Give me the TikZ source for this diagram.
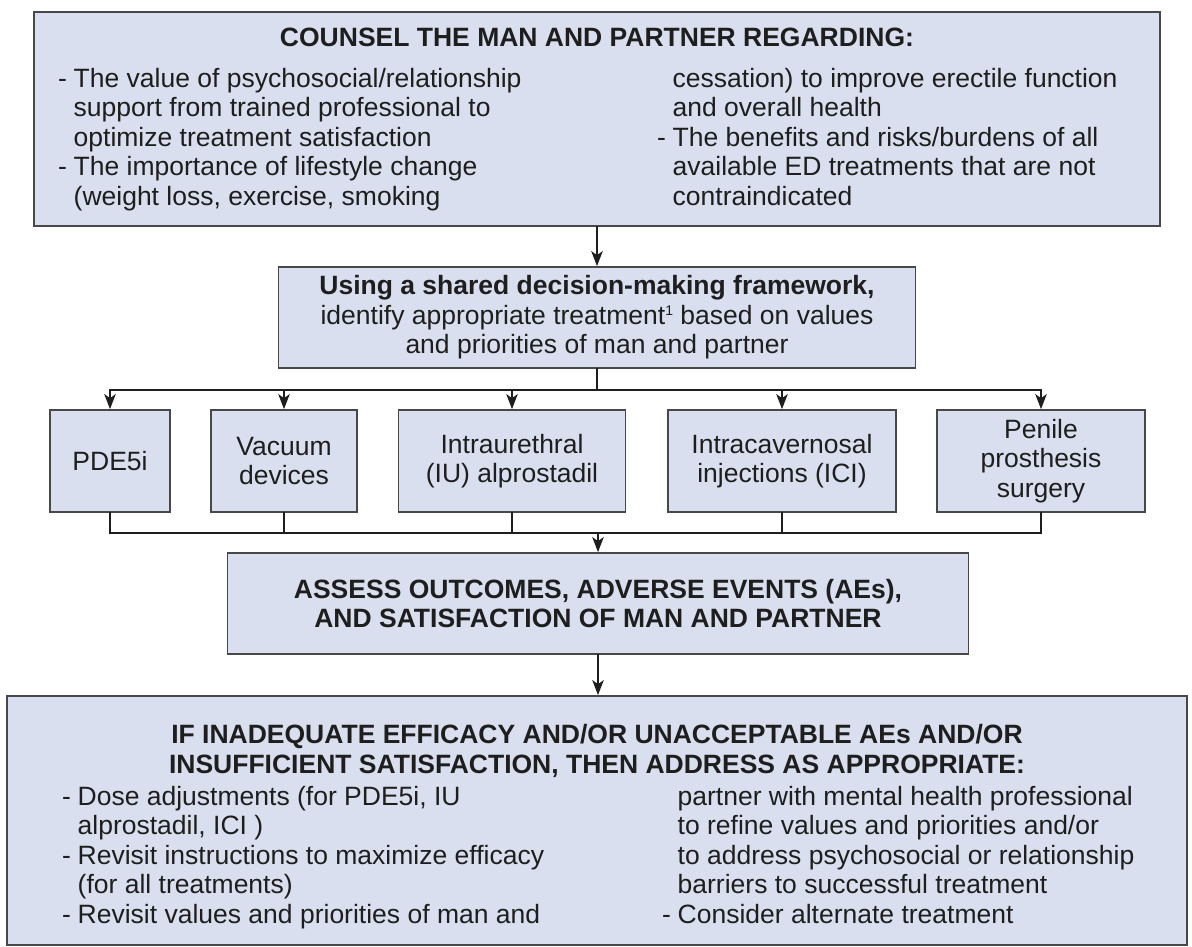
\documentclass[tikz,border=0pt]{standalone}
\usepackage{fontspec}
\setmainfont{Liberation Sans}
\usetikzlibrary{arrows.meta}
\definecolor{boxfill}{RGB}{217,223,238}
\definecolor{boxline}{RGB}{72,72,72}
\definecolor{ink}{RGB}{30,30,30}
\newcommand{\bul}{\makebox[15.5pt][l]{-}}
\newcommand{\ind}{\hspace*{15.5pt}}
\newcommand{\supone}{\raisebox{8.5pt}{\fontsize{14}{14}\selectfont 1}}
\begin{document}
\begin{tikzpicture}[x=1pt,y=-1pt,
  txt/.style={font=\fontsize{26.5}{29.5}\selectfont, text=ink, inner sep=0pt},
  head/.style={txt, font=\fontsize{26.5}{29.5}\selectfont\bfseries},
  panel/.style={txt, draw=boxline, line width=1.8pt, fill=boxfill, align=center},
  tbox/.style={panel, minimum height=102pt},
  link/.style={draw=ink, line width=1.5pt, line cap=rect},
  arr/.style={link, -{Stealth[length=15pt,width=11.5pt,inset=4pt]}}]
\useasboundingbox (0,0) rectangle (1192,947);
% counselling box (base anchor = last line)
\node[panel, minimum width=1126pt, minimum height=214pt] (counsel) at (597,119) {};
\node[head, anchor=base] (counselhead) at (597,47) {COUNSEL THE MAN AND PARTNER REGARDING:};
\node[txt, anchor=base west, align=left] (counselL) at (58,205) {\bul The value of psychosocial/relationship\\ \ind support from trained professional to\\ \ind optimize treatment satisfaction\\ \bul The importance of lifestyle change\\ \ind (weight loss, exercise, smoking};
\node[txt, anchor=base west, align=left] (counselR) at (657,205) {\ind cessation) to improve erectile function\\ \ind and overall health\\ \bul The benefits and risks/burdens of all\\ \ind available ED treatments that are not\\ \ind contraindicated};
% shared decision
\node[panel, minimum width=637pt, minimum height=101pt] (decide) at (597,317.5) {\textbf{Using a shared decision-making framework,}\\ identify appropriate treatment\supone{} based on values\\ and priorities of man and partner};
% treatments
\node[tbox, minimum width=120pt] (pde) at (110,461) {PDE5i};
\node[tbox, minimum width=146pt] (vac) at (284,461) {Vacuum\\ devices};
\node[tbox, minimum width=227pt] (iu) at (512,461) {Intraurethral\\ (IU) alprostadil};
\node[tbox, minimum width=228pt] (ici) at (782,461) {Intracavernosal\\ injections (ICI)};
\node[tbox, minimum width=208pt] (pps) at (1041,461) {Penile\\ prosthesis\\ surgery};
% assessment
\node[panel, head, minimum width=741pt, minimum height=101pt] (assess) at (598,603.5) {ASSESS OUTCOMES, ADVERSE EVENTS (AEs),\\ AND SATISFACTION OF MAN AND PARTNER};
% follow-up box
\node[panel, minimum width=1180pt, minimum height=249pt] (address) at (597,820.5) {};
\node[head, anchor=base, align=center] (addresshead) at (597,773) {IF INADEQUATE EFFICACY AND/OR UNACCEPTABLE AEs AND/OR\\ INSUFFICIENT SATISFACTION, THEN ADDRESS AS APPROPRIATE:};
\node[txt, anchor=base west, align=left] (addressL) at (62,923) {\bul Dose adjustments (for PDE5i, IU\\ \ind alprostadil, ICI )\\ \bul Revisit instructions to maximize efficacy\\ \ind (for all treatments)\\ \bul Revisit values and priorities of man and};
\node[txt, anchor=base west, align=left] (addressR) at (662,923) {\ind partner with mental health professional\\ \ind to refine values and priorities and/or\\ \ind to address psychosocial or relationship\\ \ind barriers to successful treatment\\ \bul Consider alternate treatment};
% connectors
\coordinate (fork) at (597,390);
\coordinate (merge) at (598,533);
\draw[arr] (counsel.south) -- (counsel.south |- decide.north);
\draw[link] (decide.south) -- (fork);
\draw[link] (pde.north |- fork) -- (pps.north |- fork);
\foreach \t in {pde,vac,iu,ici,pps}
  \draw[arr] (\t.north |- fork) -- (\t.north);
\foreach \t in {pde,vac,iu,ici,pps}
  \draw[link] (\t.south) -- (\t.south |- merge);
\draw[link] (pde.south |- merge) -- (pps.south |- merge);
\draw[arr] (merge) -- (merge |- assess.north);
\draw[arr] (assess.south) -- (assess.south |- address.north);
\end{tikzpicture}
\end{document}
